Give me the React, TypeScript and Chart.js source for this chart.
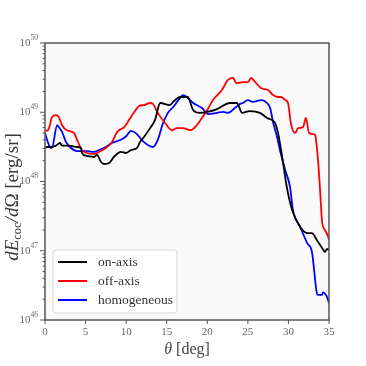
import React, { useEffect, useRef } from "react";
import { Chart, registerables } from "chart.js";

Chart.register(...registerables);

// theta [deg] and dE/dOmega [erg/sr] for each run
const thetaOn = [0, 0.25, 0.75, 1.35, 1.85, 2.1, 2.95, 3.95, 4.45, 4.55, 5.2, 6.05, 6.4, 6.9, 7.3, 7.9, 8.5, 9.35, 10.0, 10.6, 11.35, 11.7, 12.2, 12.95, 13.55, 14.2, 15.4, 15.8, 16.65, 17.6, 18.25, 19.1, 20.0, 21.2, 22.8, 23.65, 24.3, 25.25, 26.5, 27.35, 28.0, 28.35, 28.7, 28.95, 29.35, 29.8, 30.45, 31.45, 32.3, 32.9, 33.5, 34.15, 34.5, 34.75, 35.0];
const onAxis = [3.05e48, 3.15e48, 3.15e48, 3.3e48, 3.6e48, 3.3e48, 3.3e48, 3.15e48, 3.05e48, 2.58e48, 2.33e48, 2.26e48, 2.42e48, 1.91e48, 1.79e48, 1.85e48, 2.26e48, 2.67e48, 2.58e48, 2.85e48, 3.05e48, 3.7e48, 4.4e48, 5.9e48, 7.7e48, 1.36e49, 1.27e49, 1.41e49, 1.66e49, 1.66e49, 1.08e49, 9.8e48, 1.01e49, 1.11e49, 1.36e49, 1.36e49, 9.8e48, 1.04e49, 9.8e48, 8.3e48, 7.7e48, 7.0e48, 5.2e48, 3.6e48, 1.85e48, 8.3e47, 3.9e47, 2.2e47, 1.8e47, 1.8e47, 1.43e47, 1.1e47, 9.6e46, 1.06e47, 1.03e47];

const thetaOff = [0, 0.25, 0.5, 0.85, 1.35, 1.7, 2.1, 2.7, 3.6, 3.95, 4.55, 5.2, 6.05, 6.65, 7.5, 8.25, 8.9, 9.75, 10.35, 11.0, 11.6, 12.2, 12.95, 13.3, 13.9, 14.8, 15.65, 16.25, 17.0, 17.9, 18.5, 19.35, 20.0, 20.7, 21.8, 22.55, 23.2, 23.55, 24.4, 25.0, 25.4, 25.9, 26.6, 27.5, 28.1, 28.7, 29.1, 29.6, 29.95, 30.3, 30.8, 31.2, 31.8, 32.15, 32.55, 33.3, 33.4, 33.65, 33.9, 34.15, 34.5, 34.9, 35.0];
const offAxis = [5.5e48, 5.4e48, 5.9e48, 8.5e48, 9.1e48, 8.5e48, 6.5e48, 5.5e48, 5.0e48, 4.0e48, 2.85e48, 2.58e48, 2.5e48, 2.67e48, 3.05e48, 3.7e48, 5.2e48, 6.1e48, 7.7e48, 1.01e49, 1.23e49, 1.27e49, 1.36e49, 1.32e49, 9.8e48, 7.0e48, 5.5e48, 5.9e48, 5.9e48, 5.5e48, 6.1e48, 8.3e48, 1.08e49, 1.5e49, 2.09e49, 2.93e49, 3.13e49, 2.64e49, 2.73e49, 2.73e49, 3.13e49, 2.73e49, 2.24e49, 2.09e49, 1.77e49, 1.66e49, 1.66e49, 1.5e49, 1.36e49, 7.0e48, 5.0e48, 5.9e48, 6.1e48, 8.3e48, 5.0e48, 4.7e48, 4.0e48, 2.04e48, 7.5e47, 2.6e47, 2.0e47, 1.58e47, 1.43e47];

const thetaHom = [0, 0.25, 0.6, 0.85, 1.5, 1.7, 2.1, 2.6, 3.2, 3.95, 5.2, 6.05, 6.65, 7.5, 8.25, 9.35, 10.0, 10.6, 11.2, 12.2, 13.3, 13.9, 14.55, 15.15, 15.8, 16.65, 17.0, 17.6, 18.25, 19.35, 20.1, 21.2, 21.95, 22.55, 23.4, 24.05, 24.4, 25.0, 25.6, 26.75, 27.35, 27.75, 28.1, 28.6, 28.95, 29.6, 30.2, 30.55, 31.45, 32.3, 32.9, 33.5, 33.65, 34.15, 34.25, 34.75, 35.0];
const homogeneous = [5.0e48, 4.0e48, 3.15e48, 3.05e48, 6.5e48, 6.1e48, 5.2e48, 3.7e48, 3.05e48, 2.75e48, 2.75e48, 2.67e48, 2.85e48, 3.15e48, 3.6e48, 4.0e48, 4.5e48, 5.4e48, 5.0e48, 3.7e48, 3.15e48, 4.0e48, 7.0e48, 9.8e48, 1.19e49, 1.61e49, 1.77e49, 1.61e49, 1.36e49, 1.15e49, 9.4e48, 9.8e48, 1.01e49, 9.8e48, 1.15e49, 1.32e49, 1.36e49, 1.5e49, 1.41e49, 1.5e49, 1.36e49, 1.15e49, 7.2e48, 4.4e48, 2.85e48, 1.47e48, 8.3e47, 3.9e47, 2.2e47, 1.3e47, 9.6e46, 2.45e46, 2.3e46, 2.3e46, 2.5e46, 2.15e46, 1.76e46];

const seriesLabels = ["on-axis", "off-axis", "homogeneous"];
const seriesColors = ["#000000", "#ff0000", "#0000ff"];
const xTicks = [0, 5, 10, 15, 20, 25, 30, 35];
const yExponents = [46, 47, 48, 49, 50];

const SERIF = "'Liberation Serif', 'DejaVu Serif', serif";

function drawParts(ctx: CanvasRenderingContext2D, parts: [string, string, number][], cx0: number, cy: number) {
  let total = 0;
  parts.forEach(([s, f]) => {
    ctx.font = f;
    total += ctx.measureText(s).width;
  });
  let x = cx0 - total / 2;
  ctx.textAlign = "left";
  parts.forEach(([s, f, dy]) => {
    ctx.font = f;
    ctx.fillText(s, x, cy + dy);
    x += ctx.measureText(s).width;
  });
}

const decorPlugin = {
  id: "decor",
  beforeDatasetsDraw(chart: any) {
    const { ctx, chartArea: a } = chart;
    ctx.save();
    ctx.fillStyle = "#fafafa";
    ctx.fillRect(a.left, a.top, a.right - a.left, a.bottom - a.top);
    ctx.restore();
  },
  afterDatasetsDraw(chart: any) {
    const { ctx, chartArea: a } = chart;
    const xs = chart.scales.x;
    const ys = chart.scales.y;
    ctx.save();
    // frame
    ctx.strokeStyle = "#555555";
    ctx.lineWidth = 1.5;
    ctx.strokeRect(a.left, a.top, a.right - a.left, a.bottom - a.top);

    // x ticks + labels
    ctx.fillStyle = "#666666";
    ctx.strokeStyle = "#555555";
    ctx.font = `11px ${SERIF}`;
    ctx.textAlign = "center";
    ctx.textBaseline = "top";
    ctx.lineWidth = 1;
    xTicks.forEach((t) => {
      const px = xs.getPixelForValue(t);
      ctx.beginPath();
      ctx.moveTo(px, a.bottom);
      ctx.lineTo(px, a.bottom + 4);
      ctx.stroke();
      ctx.fillText(String(t), px, a.bottom + 7);
    });

    // y ticks (major + minor) + labels
    yExponents.forEach((e, i) => {
      const py = ys.getPixelForValue(Math.pow(10, e));
      ctx.beginPath();
      ctx.moveTo(a.left, py);
      ctx.lineTo(a.left - 5, py);
      ctx.stroke();
      if (i < yExponents.length - 1) {
        for (let m = 2; m <= 9; m++) {
          const pm = ys.getPixelForValue(m * Math.pow(10, e));
          ctx.beginPath();
          ctx.moveTo(a.left, pm);
          ctx.lineTo(a.left - 2.5, pm);
          ctx.stroke();
        }
      }
      const expStr = String(e);
      ctx.font = `7.5px ${SERIF}`;
      const ew = ctx.measureText(expStr).width;
      ctx.textAlign = "right";
      ctx.textBaseline = "middle";
      ctx.fillText(expStr, a.left - 7, py - 5);
      ctx.font = `11px ${SERIF}`;
      ctx.fillText("10", a.left - 7 - ew, py);
    });

    // x title
    ctx.fillStyle = "#444444";
    ctx.textBaseline = "alphabetic";
    drawParts(
      ctx,
      [
        ["θ", `italic 16px ${SERIF}`, 0],
        [" [deg]", `16px ${SERIF}`, 0],
      ],
      (a.left + a.right) / 2,
      354
    );

    // y title (rotated)
    ctx.save();
    ctx.fillStyle = "#3a3a3a";
    ctx.translate(18, 197);
    ctx.rotate(-Math.PI / 2);
    drawParts(
      ctx,
      [
        ["dE", `italic 19px ${SERIF}`, 0],
        ["coc", `12.5px ${SERIF}`, 3],
        ["/d", `italic 19px ${SERIF}`, 0],
        ["Ω", `19px ${SERIF}`, 0],
        [" [erg/sr]", `19px ${SERIF}`, 0],
      ],
      0,
      0
    );
    ctx.restore();

    // legend
    const lx = 53, ly = 250, lw = 124, lh = 63;
    ctx.fillStyle = "rgba(255,255,255,0.8)";
    ctx.strokeStyle = "#d8d8d8";
    ctx.lineWidth = 1;
    ctx.beginPath();
    (ctx as any).roundRect(lx, ly, lw, lh, 3);
    ctx.fill();
    ctx.stroke();
    ctx.font = `13.5px ${SERIF}`;
    ctx.textAlign = "left";
    ctx.textBaseline = "middle";
    chart.data.datasets.forEach((ds: any, i: number) => {
      const yy = ly + 12 + i * 19;
      ctx.strokeStyle = ds.borderColor;
      ctx.lineWidth = 2;
      ctx.beginPath();
      ctx.moveTo(lx + 5, yy);
      ctx.lineTo(lx + 34, yy);
      ctx.stroke();
      ctx.fillStyle = "#333333";
      ctx.fillText(ds.label, lx + 45, yy);
    });
    ctx.restore();
  },
};

export default function App() {
  const ref = useRef<HTMLCanvasElement>(null);
  useEffect(() => {
    document.body.style.margin = "0";
    const thetas = [thetaOn, thetaOff, thetaHom];
    const values = [onAxis, offAxis, homogeneous];
    const chart = new Chart(ref.current as HTMLCanvasElement, {
      type: "line",
      data: {
        datasets: seriesLabels.map((label, k) => ({
          label,
          data: thetas[k].map((t, i) => ({ x: t, y: values[k][i] })),
          borderColor: seriesColors[k],
          backgroundColor: seriesColors[k],
          borderWidth: 1.8,
          pointRadius: 0,
          cubicInterpolationMode: "monotone" as const,
          fill: false,
        })),
      },
      options: {
        animation: false,
        responsive: false,
        devicePixelRatio: 1,
        layout: { padding: { left: 45, right: 37, top: 43, bottom: 46 } },
        plugins: { legend: { display: false }, tooltip: { enabled: false } },
        scales: {
          x: { type: "linear", min: 0, max: 35, display: false },
          y: { type: "logarithmic", min: 1e46, max: 1e50, display: false },
        },
      },
      plugins: [decorPlugin],
    });
    return () => chart.destroy();
  }, []);
  return <canvas ref={ref} width={366} height={366} style={{ display: "block" }} />;
}
